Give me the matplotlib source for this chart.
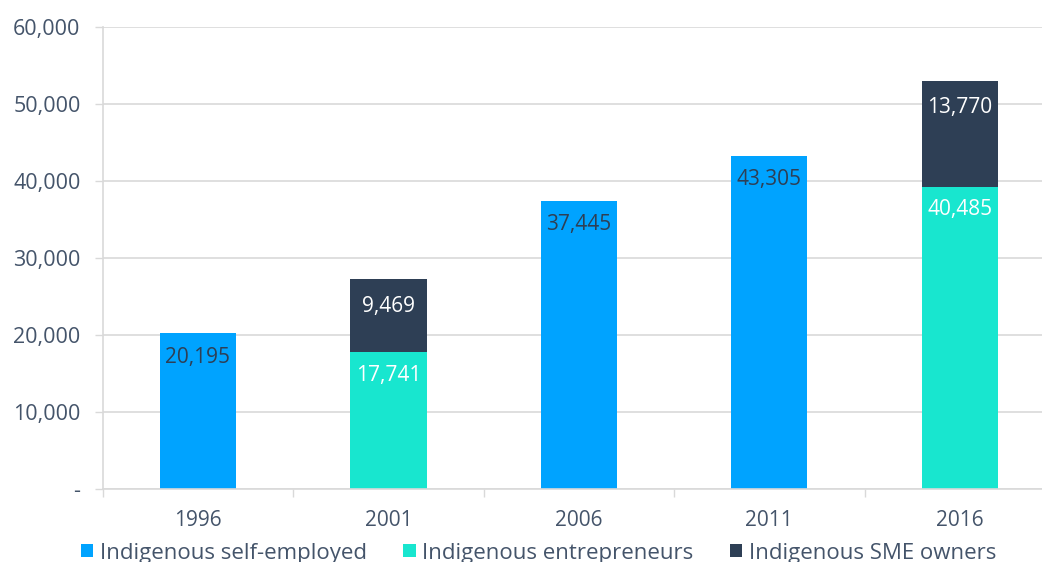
"""Indigenous self-employment by census year, stacked bars."""
import matplotlib
matplotlib.use('Agg')

import matplotlib.pyplot as plt
import numpy as np

years = ['1996', '2001', '2006', '2011', '2016']

# drawn bar heights and the labels printed on them
self_employed = [20195, 0, 37445, 43305, 0]
entrepreneurs = [0, 17741, 0, 0, 39215]
sme_owners = [0, 9469, 0, 0, 13770]

self_employed_lbl = ['20,195', '', '37,445', '43,305', '']
entrepreneurs_lbl = ['', '17,741', '', '', '40,485']
sme_owners_lbl = ['', '9,469', '', '', '13,770']

yticks = [0, 10000, 20000, 30000, 40000, 50000, 60000]
ytick_lbl = ['-', '10,000', '20,000', '30,000', '40,000', '50,000', '60,000']

BLUE = '#00A3FF'
TEAL = '#18E6CF'
NAVY = '#2E3F55'
TXT = '#44546A'

plt.rcParams['font.family'] = ['Open Sans', 'DejaVu Sans']

fig = plt.figure(figsize=(10.42, 5.62), dpi=100)
ax = fig.add_axes([0.0986, 0.1299, 0.9139, 0.8221])

x = np.arange(len(years))
w = 0.4

b1 = ax.bar(x, self_employed, w, color=BLUE, label='Indigenous self-employed', zorder=2)
b2 = ax.bar(x, entrepreneurs, w, bottom=self_employed, color=TEAL,
            label='Indigenous entrepreneurs', zorder=2)
bottom3 = np.array(self_employed) + np.array(entrepreneurs)
b3 = ax.bar(x, sme_owners, w, bottom=bottom3, color=NAVY,
            label='Indigenous SME owners', zorder=2)

ax.bar_label(b1, labels=self_employed_lbl, label_type='edge', padding=-25,
             color=NAVY, fontsize=15)
ax.bar_label(b2, labels=entrepreneurs_lbl, label_type='edge', padding=-24,
             color='white', fontsize=15)
ax.bar_label(b3, labels=sme_owners_lbl, label_type='edge', padding=-27,
             color='white', fontsize=15)

ax.set_xlim(-0.5, 4.5)
ax.set_ylim(0, 60000)
ax.set_yticks(yticks)
ax.set_yticklabels(ytick_lbl)
ax.set_xticks(x)
ax.set_xticklabels(years)
ax.set_xticks(np.arange(-0.5, 5, 1), minor=True)

ax.grid(axis='y', color='#D9D9D9', lw=1.2, zorder=0)
ax.tick_params(axis='y', length=6, width=1, color='#D9D9D9', pad=10,
               labelsize=15.5, labelcolor=TXT)
ax.tick_params(axis='x', which='major', length=0, pad=15,
               labelsize=15, labelcolor=TXT)
ax.tick_params(axis='x', which='minor', length=6, width=1, color='#D9D9D9')

for s in ['top', 'right']:
    ax.spines[s].set_visible(False)
for s in ['left', 'bottom']:
    ax.spines[s].set_color('#D9D9D9')
    ax.spines[s].set_linewidth(1.2)

fig.legend(handles=[b1, b2, b3], loc='center', bbox_to_anchor=(0.517, 0.016),
           ncol=3, frameon=False, fontsize=16, labelcolor=TXT,
           handlelength=0.55, handleheight=0.55, handletextpad=0.3,
           columnspacing=1.65)

fig.savefig('out.png', dpi=100)
plt.close(fig)
